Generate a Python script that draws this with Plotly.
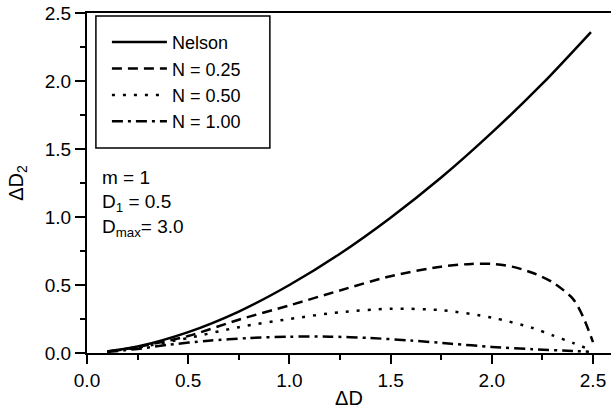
import plotly.graph_objects as go

# Data
nelson_x = [0.1, 0.25, 0.5, 0.75, 1.0, 1.25, 1.5, 1.75, 2.0, 2.25, 2.49]
nelson_y = [0.012, 0.048, 0.154, 0.305, 0.50, 0.73, 0.995, 1.29, 1.62, 1.98, 2.36]

n025_x = [0.1, 0.25, 0.5, 0.75, 1.0, 1.25, 1.5, 1.75, 1.9, 2.0, 2.1, 2.2, 2.3, 2.4, 2.45, 2.5]
n025_y = [0.012, 0.045, 0.125, 0.245, 0.35, 0.46, 0.565, 0.635, 0.655, 0.655, 0.635, 0.59, 0.52, 0.40, 0.27, 0.08]

n050_x = [0.1, 0.25, 0.5, 0.75, 1.0, 1.25, 1.5, 1.75, 2.0, 2.2, 2.3, 2.4, 2.46]
n050_y = [0.01, 0.04, 0.11, 0.19, 0.25, 0.30, 0.325, 0.315, 0.26, 0.185, 0.13, 0.075, 0.04]

n100_x = [0.1, 0.25, 0.4, 0.6, 0.8, 1.0, 1.2, 1.4, 1.6, 1.8, 2.0, 2.2, 2.4, 2.48]
n100_y = [0.008, 0.03, 0.06, 0.09, 0.11, 0.12, 0.12, 0.11, 0.092, 0.068, 0.045, 0.028, 0.015, 0.01]

series_names = ["Nelson", "N = 0.25", "N = 0.50", "N = 1.00"]
x_ticks = [0.0, 0.5, 1.0, 1.5, 2.0, 2.5]
y_ticks = [0.0, 0.5, 1.0, 1.5, 2.0, 2.5]

FONT = "Arial, 'Liberation Sans', sans-serif"
FS = 19

fig = go.Figure()
dashes = ["solid", "10px,6px", "3px,8px", "11px,5px,3px,5px"]
for name, xs, ys, dash in zip(series_names,
                              [nelson_x, n025_x, n050_x, n100_x],
                              [nelson_y, n025_y, n050_y, n100_y], dashes):
    fig.add_trace(go.Scatter(x=xs, y=ys, mode="lines", name=name,
                             line=dict(color="black", width=2.5, shape="spline",
                                       smoothing=0.8, dash=dash)))

axis_common = dict(
    showgrid=False, zeroline=False, showline=True, linecolor="black", linewidth=2,
    ticks="outside", tickcolor="black", tickwidth=2, automargin=False,
    tickfont=dict(family=FONT, size=FS, color="black"),
)

fig.update_xaxes(range=[0, 2.589], tickvals=x_ticks, ticktext=[f"{v:.1f}" for v in x_ticks],
                 ticklen=9, mirror=True,
                 minor=dict(ticks="outside", dtick=0.25, tick0=0, ticklen=5, tickwidth=2, tickcolor="black"),
                 title=dict(text="ΔD", font=dict(family=FONT, size=20, color="black"), standoff=3),
                 **axis_common)
fig.update_yaxes(range=[0, 2.5], tickvals=y_ticks, ticktext=[f"{v:.1f}" for v in y_ticks],
                 ticklen=10,
                 minor=dict(ticks="outside", dtick=0.25, tick0=0, ticklen=5, tickwidth=2, tickcolor="black"),
                 title=dict(text="ΔD<sub>2</sub>", font=dict(family=FONT, size=20, color="black"), standoff=16),
                 **axis_common)

annots = [("m = 1", 0.515), ("D<sub>1</sub> = 0.5", 0.441), ("D<sub>max</sub>= 3.0", 0.368)]
for txt, yy in annots:
    fig.add_annotation(text=txt, xref="paper", yref="paper", x=0.025, y=yy,
                       xanchor="left", yanchor="middle", showarrow=False,
                       font=dict(family=FONT, size=FS, color="black"))

# legend frame
fig.add_shape(type="rect", xref="paper", yref="paper",
              x0=0.017, x1=0.349, y0=0.603, y1=0.991,
              line=dict(color="black", width=1.5), fillcolor="rgba(0,0,0,0)")

fig.update_layout(
    width=611, height=409,
    margin=dict(l=87, r=0, t=13, b=56),
    paper_bgcolor="white", plot_bgcolor="white",
    font=dict(family=FONT, size=FS, color="black"),
    showlegend=True,
    legend=dict(x=0.038, y=0.968, xanchor="left", yanchor="top",
                borderwidth=0, bgcolor="rgba(0,0,0,0)",
                font=dict(family=FONT, size=18, color="black"),
                itemwidth=55, tracegroupgap=0),
)

fig.write_html("out.html", config={"displayModeBar": False},
               post_script="document.body.style.margin='0';document.body.style.overflow='hidden';")
